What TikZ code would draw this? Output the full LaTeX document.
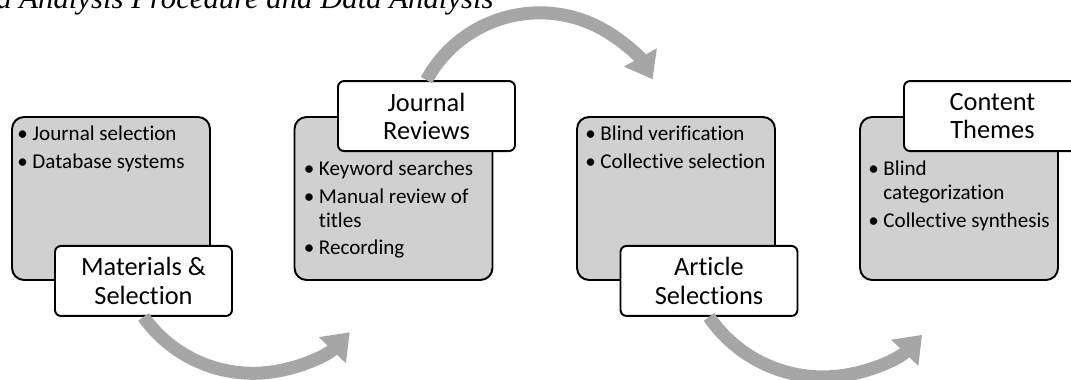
\documentclass[tikz,border=0pt]{standalone}
\usepackage{fontspec}
\setmainfont{Carlito}[Ligatures=NoCommon]
\newfontfamily\titlefont{Liberation Serif}
\usetikzlibrary{positioning,arrows.meta}
\definecolor{boxgray}{HTML}{D0D0D0}
\definecolor{arrowgray}{HTML}{A6A6A6}

\begin{document}
\begin{tikzpicture}[
    x=0.02cm, y=0.02cm,
    stepbox/.style={draw, fill=boxgray, line width=1.1pt, rounded corners=0.24cm,
        minimum width=3.96cm, minimum height=3.26cm, inner sep=0pt},
    tagbox/.style={draw, fill=white, line width=1.1pt, rounded corners=0.12cm,
        minimum width=3.54cm, minimum height=1.4cm, align=center, inner sep=0pt,
        font=\fontsize{15}{16}\selectfont},
    items/.style={anchor=north west, inner sep=0pt, align=left,
        font=\fontsize{12}{13.3}\selectfont},
    flow/.style={draw=arrowgray, line width=0.26cm,
        -{Triangle[width=0.72cm,length=0.5cm]}}
]
\useasboundingbox (0,0) rectangle (1071,-379);

% title line, cut by the page edge
\node[anchor=base west, inner sep=0pt, font=\titlefont\itshape\fontsize{17.5}{20}\selectfont]
    (title) at (-4,-8.5) {a Analysis Procedure and Data Analysis};

% the four stages
\node[stepbox] (box1) at (111,-198.5) {};
\node[stepbox] (box2) at (393.5,-198.5) {};
\node[stepbox] (box3) at (676,-198.5) {};
\node[stepbox] (box4) at (959,-198.5) {};

\node[items] (list1) at ([xshift=0.12cm,yshift=-0.16cm]box1.north west) {%
    \begin{tabular}{@{}l@{\hspace{2.6pt}}l@{}}
    \textbullet & Journal selection\\[2.6pt]
    \textbullet & Database systems
    \end{tabular}};
\node[items] (list2) at ([xshift=0.2cm,yshift=-0.86cm]box2.north west) {%
    \begin{tabular}{@{}l@{\hspace{2.6pt}}l@{}}
    \textbullet & Keyword searches\\[2.6pt]
    \textbullet & Manual review of\\
                & titles\\[2.6pt]
    \textbullet & Recording
    \end{tabular}};
\node[items] (list3) at ([xshift=0.18cm,yshift=-0.16cm]box3.north west) {%
    \begin{tabular}{@{}l@{\hspace{2.6pt}}l@{}}
    \textbullet & Blind verification\\[2.6pt]
    \textbullet & Collective selection
    \end{tabular}};
\node[items] (list4) at ([xshift=0.18cm,yshift=-0.86cm]box4.north west) {%
    \begin{tabular}{@{}l@{\hspace{2.6pt}}l@{}}
    \textbullet & Blind\\
                & categorization\\[2.6pt]
    \textbullet & Collective synthesis
    \end{tabular}};

\node[tagbox] (lab1) at ([xshift=0.65cm]box1.south) {Materials \&\\Selection};
\node[tagbox] (lab2) at ([xshift=0.66cm]box2.north) {Journal\\Reviews};
\node[tagbox] (lab3) at ([xshift=0.66cm]box3.south) {Article\\Selections};
\node[tagbox] (lab4) at ([xshift=0.67cm]box4.north) {Content\\Themes};

% curved arrows between stages
\draw[flow] (lab1.south) arc[start angle=215.5, end angle=316, radius=2.69cm];
\draw[flow] (lab2.north) arc[start angle=151.4, end angle=29, radius=2.58cm];
\draw[flow] (lab3.south) arc[start angle=214.4, end angle=316, radius=2.76cm];
\end{tikzpicture}
\end{document}
